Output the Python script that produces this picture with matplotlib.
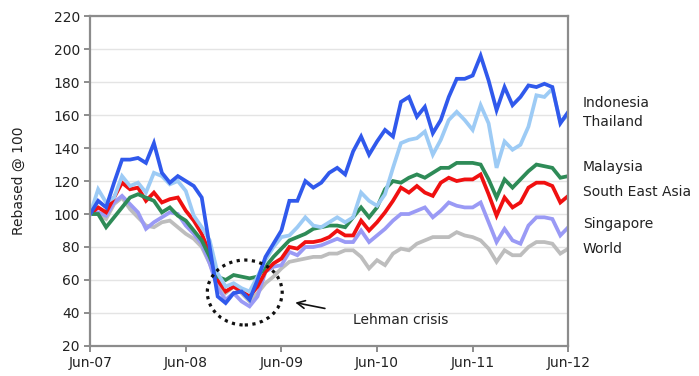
import numpy as np
import matplotlib
matplotlib.use('Agg')
import matplotlib.pyplot as plt
from matplotlib.patches import Ellipse

# monthly index values, Jun-07 .. Jun-12 (rebased to 100)
tick_labels = ['Jun-07', 'Jun-08', 'Jun-09', 'Jun-10', 'Jun-11', 'Jun-12']

indonesia = [100, 108, 104, 119, 133, 133, 134, 131, 143, 125, 119, 123, 120,
             117, 110, 80, 50, 46, 52, 53, 48, 60, 74, 82, 90, 108, 108, 120,
             116, 119, 125, 128, 124, 138, 147, 136, 144, 151, 147, 168, 171,
             159, 165, 149, 157, 171, 182, 182, 184, 196, 181, 163, 177, 166,
             171, 178, 177, 179, 177, 155, 162]
thailand = [100, 115, 107, 110, 123, 117, 119, 113, 125, 123, 118, 120, 114,
            99, 92, 84, 64, 56, 58, 55, 53, 62, 72, 80, 86, 87, 92, 98, 93,
            92, 95, 98, 95, 98, 113, 108, 105, 112, 128, 143, 145, 146, 150,
            136, 145, 157, 162, 157, 151, 166, 155, 128, 144, 139, 142, 153,
            172, 171, 176, 156, 160]
malaysia = [100, 100, 92, 98, 104, 110, 112, 110, 108, 101, 104, 99, 96, 90,
            84, 74, 62, 60, 63, 62, 61, 62, 68, 74, 79, 84, 86, 88, 91, 92,
            93, 93, 92, 98, 104, 98, 104, 115, 120, 119, 122, 124, 122, 125,
            128, 128, 131, 131, 131, 130, 121, 110, 121, 116, 121, 126, 130,
            129, 128, 122, 123]
south_east_asia = [100, 104, 101, 110, 119, 115, 116, 108, 113, 107, 109, 110,
                   102, 96, 88, 76, 60, 53, 56, 53, 50, 56, 65, 70, 73, 80, 79,
                   83, 83, 84, 86, 90, 87, 87, 96, 90, 95, 101, 108, 116, 113,
                   117, 113, 111, 119, 122, 120, 121, 121, 124, 112, 99, 110,
                   104, 107, 116, 119, 119, 117, 107, 111]
singapore = [100, 101, 99, 107, 111, 106, 101, 91, 95, 98, 101, 100, 93, 88,
             82, 70, 55, 48, 52, 47, 44, 50, 65, 68, 69, 77, 75, 80, 80, 81,
             83, 85, 83, 83, 90, 83, 87, 91, 96, 100, 100, 102, 104, 98, 102,
             107, 105, 104, 104, 107, 95, 83, 91, 84, 82, 93, 98, 98, 97, 87,
             92]
world = [100, 100, 97, 106, 110, 103, 98, 93, 92, 95, 96, 92, 88, 85, 80, 70,
         58, 52, 56, 52, 47, 52, 58, 62, 67, 71, 72, 73, 74, 74, 76, 76, 78,
         78, 74, 67, 72, 69, 76, 79, 78, 82, 84, 86, 86, 86, 89, 87, 86, 84,
         79, 71, 78, 75, 75, 80, 83, 83, 82, 76, 79]

series = [
    ('World', world, '#BDBDBD', 78.8),
    ('Singapore', singapore, '#9A9AF5', 94),
    ('South East Asia', south_east_asia, '#F01010', 113.3),
    ('Malaysia', malaysia, '#2E8B57', 128.5),
    ('Thailand', thailand, '#9DCBF5', 155.8),
    ('Indonesia', indonesia, '#3059EC', 167.3),
]

x = np.arange(len(indonesia))

fig = plt.figure(figsize=(6.99, 3.76), dpi=100)
ax = fig.add_axes([0.129, 0.080, 0.684, 0.877])

for name, vals, col, ylab in series:
    ax.plot(x, vals, color=col, lw=2.7, solid_joinstyle='miter')
    ax.text(61.8, ylab, name, fontsize=10, color='#222222', va='center',
            ha='left', clip_on=False)

# Lehman trough marker
ax.add_patch(Ellipse((19.4, 52.4), 9.4, 39.4, fill=False, ls=(0, (1, 1.4)),
                     lw=2.3, ec='#111111', zorder=5))
ax.annotate('', xy=(25.4, 46.6), xytext=(29.8, 42.4),
            arrowprops=dict(arrowstyle='->', color='#111111', lw=1.2,
                            mutation_scale=14))
ax.text(33, 35.8, 'Lehman crisis', fontsize=10, color='#222222', va='center')

ax.set_xlim(0, 60)
ax.set_ylim(20, 220)
ax.set_xticks(np.arange(0, 61, 12))
ax.set_xticklabels(tick_labels)
ax.set_yticks(np.arange(20, 221, 20))
ax.yaxis.grid(True, color='#E4E4E4', lw=1)
ax.set_axisbelow(True)
for s in ax.spines.values():
    s.set_color('#8C8C8C')
    s.set_linewidth(1.6)
ax.tick_params(axis='both', colors='#8C8C8C', labelcolor='#222222',
               labelsize=10, length=4, width=1.4)
ax.set_ylabel('Rebased @ 100', fontsize=10, color='#222222', labelpad=20)

fig.savefig('out.png', dpi=100)
